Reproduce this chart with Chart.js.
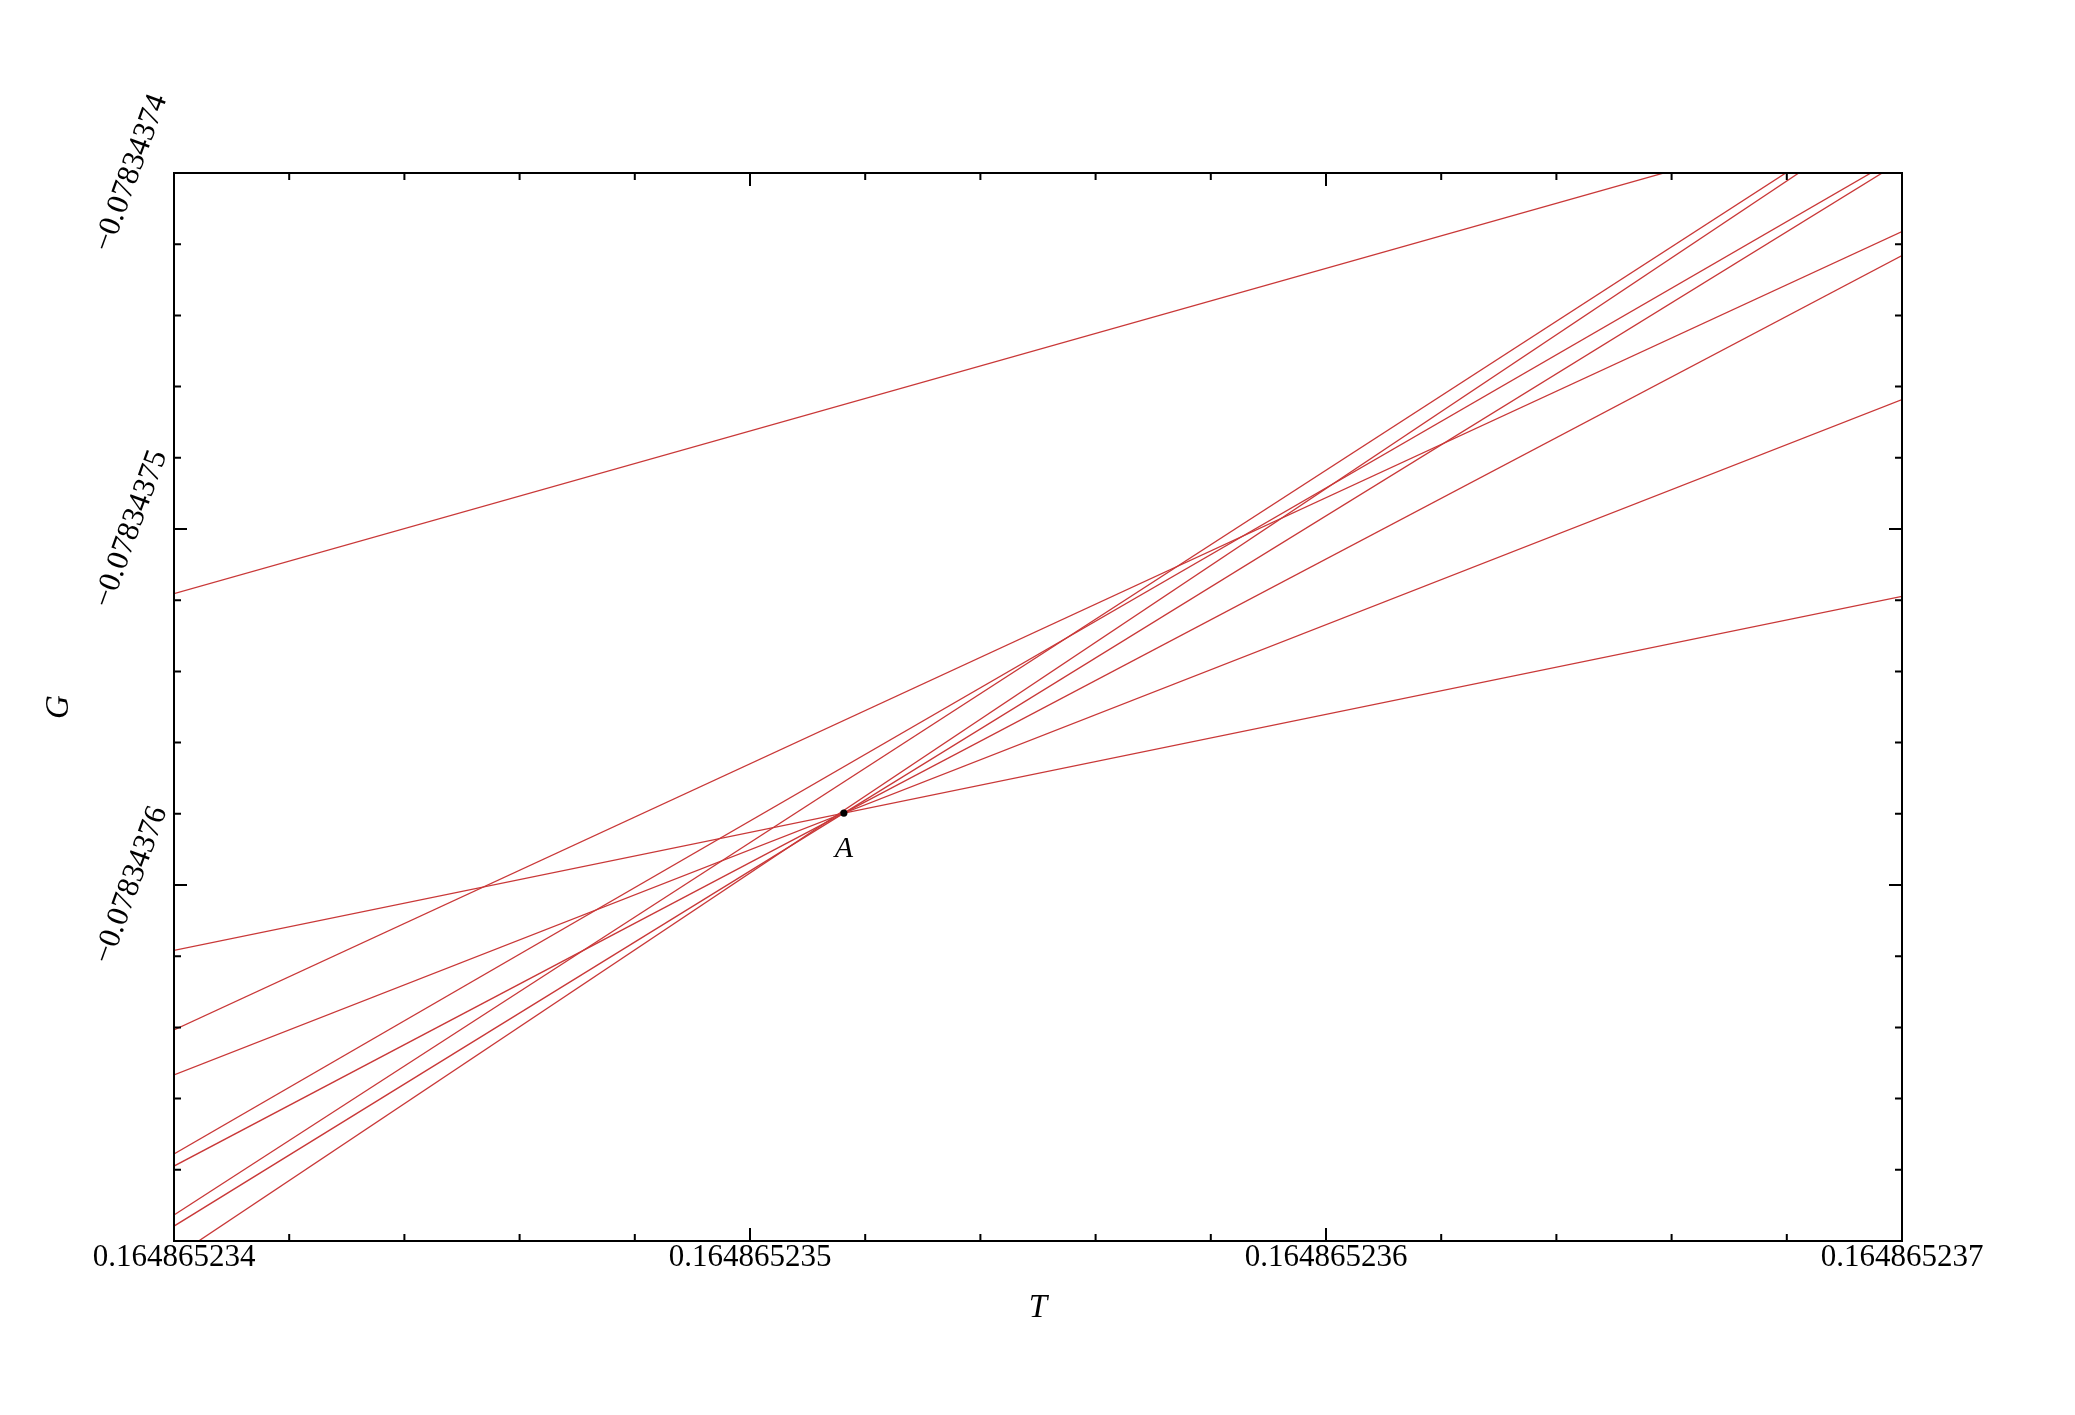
<!DOCTYPE html>
<html>
<head>
<meta charset="utf-8">
<title>G vs T</title>
<script src="https://cdn.jsdelivr.net/npm/chart.js@4.4.1/dist/chart.umd.min.js"></script>
<style>
  body { margin: 0; background: #fff; }
  #chart { display: block; }
</style>
</head>
<body>
<canvas id="chart" width="2075" height="1415"></canvas>
<script>
const tRange = [0.164865234, 0.164865237];
const gRange = [-0.07834377, -0.07834374];

const xMajorTicks = [0.164865234, 0.164865235, 0.164865236, 0.164865237];
const xTickLabels = ['0.164865234', '0.164865235', '0.164865236', '0.164865237'];
const yMajorTicks = [-0.07834377, -0.07834376, -0.07834375, -0.07834374];
const yTickLabels = ['', '\u22120.07834376', '\u22120.07834375', '\u22120.07834374'];
const minorPerMajor = 5;

// G of each line at the left edge (T = 0.164865234) and at the right edge (T = 0.164865237)
const gAtLeft = [
  -0.078343751818, -0.078343761834, -0.078343764071, -0.078343765334, -0.078343767555,
  -0.078343767895, -0.078343769270, -0.078343769581, -0.078343770462
];
const gAtRight = [
  -0.078343738110, -0.078343751893, -0.078343741644, -0.078343746365, -0.078343739494,
  -0.078343742320, -0.078343737889, -0.078343739656, -0.078343738064
];

const pointA = { t: 0.164865235163, g: -0.07834375798, label: 'A' };

const lineColor = '#c93838';
const serif = '"Liberation Serif", "Times New Roman", serif';

function buildTicks(majors) {
  const out = [];
  for (let i = 0; i < majors.length; i++) {
    out.push({ value: majors[i], major: true });
    if (i < majors.length - 1) {
      for (let k = 1; k < minorPerMajor; k++) {
        out.push({ value: majors[i] + (majors[i + 1] - majors[i]) * k / minorPerMajor, major: false });
      }
    }
  }
  return out;
}

// box, inward ticks on all four sides, rotated y labels and the A label
const framePlugin = {
  id: 'frame',
  afterDraw(chart) {
    const { ctx, chartArea: a } = chart;
    const xs = chart.scales.x, ys = chart.scales.y;
    ctx.save();
    ctx.strokeStyle = '#000';
    ctx.lineWidth = 2;
    ctx.strokeRect(a.left, a.top, a.right - a.left, a.bottom - a.top);

    ctx.beginPath();
    xs.ticks.forEach(t => {
      const px = xs.getPixelForValue(t.value);
      const len = t.major ? 13 : 7;
      ctx.moveTo(px, a.bottom); ctx.lineTo(px, a.bottom - len);
      ctx.moveTo(px, a.top); ctx.lineTo(px, a.top + len);
    });
    ys.ticks.forEach(t => {
      const py = ys.getPixelForValue(t.value);
      const len = t.major ? 13 : 7;
      ctx.moveTo(a.left, py); ctx.lineTo(a.left + len, py);
      ctx.moveTo(a.right, py); ctx.lineTo(a.right - len, py);
    });
    ctx.stroke();

    ctx.fillStyle = '#000';
    ctx.font = '31px ' + serif;
    ctx.textAlign = 'center';
    ctx.textBaseline = 'middle';
    yMajorTicks.forEach((v, i) => {
      if (!yTickLabels[i]) return;
      const py = ys.getPixelForValue(v);
      ctx.save();
      ctx.translate(a.left - 43, py);
      ctx.rotate(-70 * Math.PI / 180);
      ctx.fillText(yTickLabels[i], 0, 0);
      ctx.restore();
    });

    const ax = xs.getPixelForValue(pointA.t), ay = ys.getPixelForValue(pointA.g);
    ctx.beginPath();
    ctx.arc(ax, ay, 3.6, 0, 2 * Math.PI);
    ctx.fill();
    ctx.font = 'italic 30px ' + serif;
    ctx.fillText(pointA.label, ax, ay + 36);
    ctx.restore();
  }
};

function renderChart() {
  const datasets = gAtLeft.map((g0, i) => ({
    data: [{ x: tRange[0], y: g0 }, { x: tRange[1], y: gAtRight[i] }],
    showLine: true,
    borderColor: lineColor,
    borderWidth: 1.3,
    pointRadius: 0
  }));
  datasets.push({
    data: [{ x: pointA.t, y: pointA.g }],
    showLine: false,
    pointRadius: 0
  });

  const ctx = document.getElementById('chart').getContext('2d');
  new Chart(ctx, {
    type: 'scatter',
    data: { datasets: datasets },
    options: {
      responsive: false,
      animation: false,
      devicePixelRatio: 1,
      layout: { padding: { left: 0, top: 173, right: 173, bottom: 0 } },
      plugins: { legend: { display: false }, tooltip: { enabled: false } },
      scales: {
        x: {
          type: 'linear',
          min: tRange[0],
          max: tRange[1],
          afterBuildTicks: s => { s.ticks = buildTicks(xMajorTicks); },
          afterFit: s => { s.height = 174; },
          grid: { display: false, drawTicks: false },
          border: { display: false },
          ticks: {
            autoSkip: false,
            maxRotation: 0,
            minRotation: 0,
            padding: 1,
            color: '#000',
            font: { family: serif, size: 31, lineHeight: 1 },
            callback: (v, i, ticks) => ticks[i].major ? xTickLabels[xMajorTicks.indexOf(v)] : ''
          },
          title: {
            display: true,
            text: 'T',
            color: '#000',
            font: { family: serif, size: 33, style: 'italic', lineHeight: 1.2 },
            padding: { top: 0, bottom: 87 }
          }
        },
        y: {
          type: 'linear',
          min: gRange[0],
          max: gRange[1],
          afterBuildTicks: s => { s.ticks = buildTicks(yMajorTicks); },
          afterFit: s => { s.width = 174; },
          grid: { display: false, drawTicks: false },
          border: { display: false },
          ticks: { display: false, autoSkip: false },
          title: {
            display: true,
            text: 'G',
            color: '#000',
            font: { family: serif, size: 33, style: 'italic', lineHeight: 1.2 },
            padding: { top: 40, bottom: 0 }
          }
        }
      }
    },
    plugins: [framePlugin]
  });
}

window.onload = renderChart;
</script>
</body>
</html>
